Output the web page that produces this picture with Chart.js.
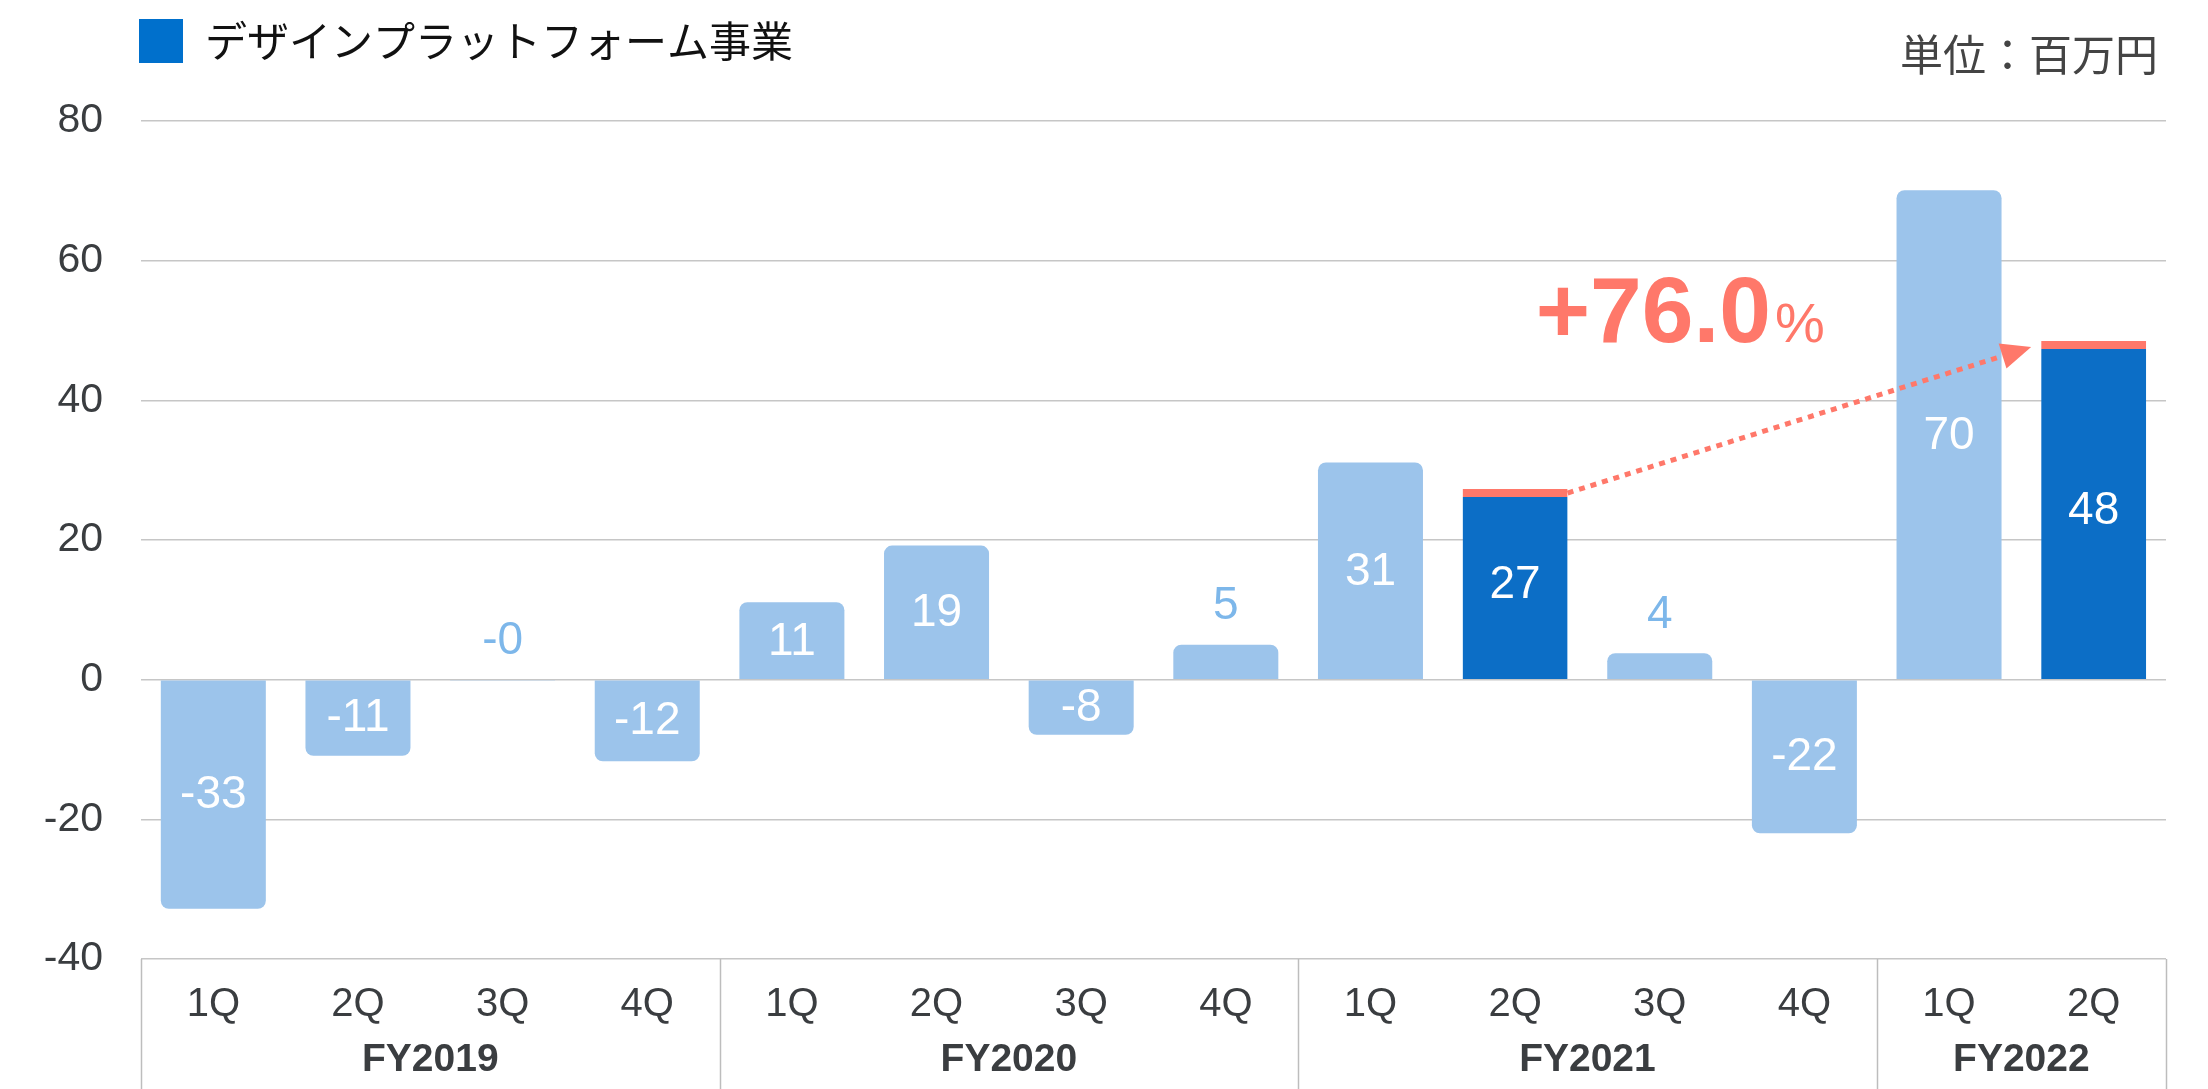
<!DOCTYPE html>
<html lang="ja">
<head>
  <meta charset="UTF-8" />
  <title>デザインプラットフォーム事業</title>
  <script src="https://cdn.jsdelivr.net/npm/chart.js"></script>
  <style>
    html, body {
      margin: 0;
      padding: 0;
      background: #fff;
    }
    #wrap {
      width: 2208px;
      height: 1089px;
      position: relative;
    }
  </style>
</head>
<body>
  <div id="wrap">
    <canvas id="segmentChart" width="2208" height="1089"></canvas>
  </div>

  <script>
    // quarterly figures (百万円)
    const categories = ['1Q', '2Q', '3Q', '4Q', '1Q', '2Q', '3Q', '4Q', '1Q', '2Q', '3Q', '4Q', '1Q', '2Q'];
    const fiscalYears = ['FY2019', 'FY2020', 'FY2021', 'FY2022'];
    const quartersPerYear = [4, 4, 4, 2];
    const profit = [-32.8, -10.9, -0.1, -11.7, 11.1, 19.2, -7.9, 5.0, 31.1, 27.3, 3.8, -22.0, 70.1, 48.5];
    const valueLabels = ['-33', '-11', '-0', '-12', '11', '19', '-8', '5', '31', '27', '4', '-22', '70', '48'];
    const highlighted = [false, false, false, false, false, false, false, false, false, true, false, false, false, true];
    const yTicks = [-40, -20, 0, 20, 40, 60, 80];
    const legendText = 'デザインプラットフォーム事業';
    const unitText = '単位：百万円';
    const growthText = '+76.0';
    const growthUnit = '%';
    const arrowFrom = 9;
    const arrowTo = 13;

    const LIGHT = '#9cc4eb';
    const DARK = '#0c6ec6';
    const CORAL = '#ff786a';
    const LABEL_BLUE = '#7db7ea';
    const TEXT = '#3a3d40';
    const NUM_FONT = '"Liberation Sans", Arial, "Noto Sans CJK JP", sans-serif';
    const JP_FONT = '"Noto Sans CJK JP", "Liberation Sans", sans-serif';

    const overlay = {
      id: 'overlay',
      afterDatasetsDraw(chart) {
        const ctx = chart.ctx;
        const area = chart.chartArea;
        const xs = chart.scales.x;
        const ys = chart.scales.y;
        const bars = chart.getDatasetMeta(0).data;
        const step = (xs.getPixelForValue(1) - xs.getPixelForValue(0));

        // value labels
        ctx.save();
        ctx.font = '46px ' + NUM_FONT;
        ctx.textAlign = 'center';
        ctx.textBaseline = 'middle';
        bars.forEach((bar, i) => {
          const v = profit[i];
          const zero = ys.getPixelForValue(0);
          if (Math.abs(v) >= 7) {
            ctx.fillStyle = '#fff';
            ctx.fillText(valueLabels[i], bar.x, (bar.y + zero) / 2 + 1);
          } else {
            ctx.fillStyle = LABEL_BLUE;
            ctx.fillText(valueLabels[i], bar.x, Math.min(bar.y, zero) - 38);
          }
        });
        ctx.restore();

        // legend + unit
        ctx.save();
        ctx.fillStyle = '#0070cc';
        ctx.fillRect(139, 19, 44, 44);
        ctx.fillStyle = '#111';
        ctx.font = '42px ' + JP_FONT;
        ctx.textBaseline = 'middle';
        ctx.textAlign = 'left';
        ctx.fillText(legendText, 205, 41);
        ctx.fillStyle = '#444';
        ctx.textAlign = 'right';
        ctx.font = '43px ' + JP_FONT;
        ctx.fillText(unitText, 2158, 55);
        ctx.restore();

        // fiscal year band
        ctx.save();
        ctx.strokeStyle = '#bdbdbd';
        ctx.lineWidth = 1.5;
        let start = 0;
        const bottom = chart.height;
        const lines = [];
        quartersPerYear.forEach((n, g) => {
          const left = xs.getPixelForValue(start) - step / 2;
          const right = xs.getPixelForValue(start + n - 1) + step / 2;
          lines.push(left);
          if (g === quartersPerYear.length - 1) lines.push(right);
          ctx.fillStyle = TEXT;
          ctx.font = 'bold 39px ' + NUM_FONT;
          ctx.textAlign = 'center';
          ctx.textBaseline = 'middle';
          ctx.fillText(fiscalYears[g], (left + right) / 2, 1060);
          start += n;
        });
        lines.forEach(x => {
          ctx.beginPath();
          ctx.moveTo(Math.round(x) + 0.5, area.bottom);
          ctx.lineTo(Math.round(x) + 0.5, bottom);
          ctx.stroke();
        });
        ctx.restore();

        // growth arrow
        const a = bars[arrowFrom];
        const b = bars[arrowTo];
        const x1 = a.x + a.width / 2;
        const y1 = a.y + 4;
        const tipX = b.x - b.width / 2 - 10;
        const tipY = b.y + 6;
        const ang = Math.atan2(tipY - y1, tipX - x1);
        const headLen = 30;
        const x2 = tipX - Math.cos(ang) * headLen;
        const y2 = tipY - Math.sin(ang) * headLen;
        ctx.save();
        ctx.strokeStyle = CORAL;
        ctx.lineWidth = 5;
        ctx.setLineDash([6, 6]);
        ctx.beginPath();
        ctx.moveTo(x1, y1);
        ctx.lineTo(x2, y2);
        ctx.stroke();
        ctx.setLineDash([]);
        ctx.fillStyle = CORAL;
        ctx.beginPath();
        ctx.moveTo(tipX, tipY);
        ctx.lineTo(x2 - Math.sin(ang) * 13, y2 + Math.cos(ang) * 13);
        ctx.lineTo(x2 + Math.sin(ang) * 13, y2 - Math.cos(ang) * 13);
        ctx.closePath();
        ctx.fill();

        // growth text
        ctx.font = 'bold 93px ' + NUM_FONT;
        ctx.textAlign = 'left';
        ctx.textBaseline = 'alphabetic';
        const tx = xs.getPixelForValue(10) - 124;
        const ty = ys.getPixelForValue(profit[arrowTo]) + 1;
        ctx.fillText(growthText, tx, ty);
        const w = ctx.measureText(growthText).width;
        ctx.font = '56px ' + NUM_FONT;
        ctx.fillText(growthUnit, tx + w + 4, ty);
        ctx.restore();
      }
    };

    new Chart(document.getElementById('segmentChart'), {
      type: 'bar',
      data: {
        labels: categories,
        datasets: [{
          label: legendText,
          data: profit,
          backgroundColor: profit.map((v, i) => highlighted[i] ? DARK : LIGHT),
          borderColor: CORAL,
          borderWidth: highlighted.map(h => h ? { top: 8, left: 0, right: 0, bottom: 0 } : 0),
          borderRadius: highlighted.map(h => h ? 0 : 8),
          borderSkipped: 'start',
          barPercentage: 0.726,
          categoryPercentage: 1.0
        }]
      },
      options: {
        responsive: false,
        animation: false,
        layout: { padding: { top: 121, right: 42, left: 0, bottom: 0 } },
        plugins: {
          legend: { display: false },
          tooltip: { enabled: false }
        },
        scales: {
          x: {
            grid: { display: false, drawTicks: false },
            border: { display: false },
            ticks: {
              color: TEXT,
              font: { family: NUM_FONT, size: 40 },
              padding: 22,
              maxRotation: 0
            },
            afterFit(scale) { scale.height = 130; }
          },
          y: {
            min: -40,
            max: 80,
            afterBuildTicks(scale) { scale.ticks = yTicks.map(v => ({ value: v })); },
            grid: { color: '#c6c6c6', lineWidth: 1.5, drawTicks: false },
            border: { display: false },
            ticks: {
              color: TEXT,
              font: { family: NUM_FONT, size: 41 },
              padding: 38
            },
            afterFit(scale) { scale.width = 141; }
          }
        }
      },
      plugins: [overlay]
    });
  </script>
</body>
</html>
